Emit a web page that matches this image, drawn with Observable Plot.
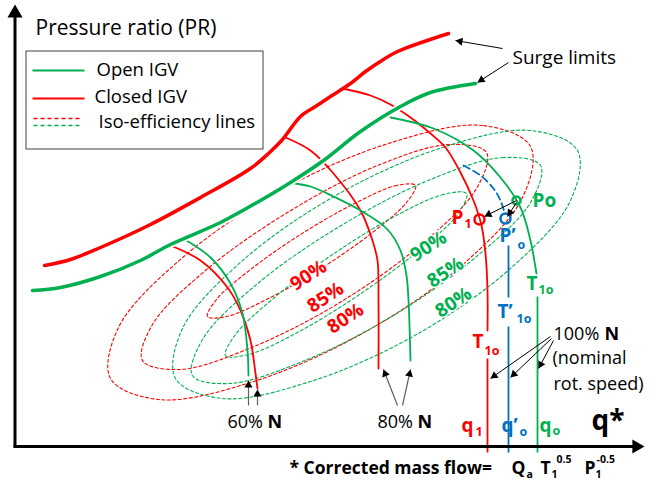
<!DOCTYPE html>
<html><head><meta charset="utf-8">
<script src="https://cdn.jsdelivr.net/npm/d3@7"></script>
<script src="https://cdn.jsdelivr.net/npm/@observablehq/plot@0.6"></script>
<style>body{margin:0;background:#fff}</style>
</head><body><div id="chart"></div>
<script>
// ---- data (x = corrected flow q*, y = pressure-ratio position, schematic units) ----
const surgeClosed = [[44,265],[70,259],[100,247],[150,224],[200,197],[250,168],[268,153],[282,139],[300,116],[315,106],[330,96],[350,83],[365,71],[383,59],[397,51],[448,33]];
const surgeOpen = [[32,290],[60,287],[100,276],[140,260],[170,244],[220,222],[260,200],[290,182],[323,160],[360,131],[400,106],[430,92],[475,83]];

const speedRed60 = [[170,245],[200,260],[227,287],[240,310],[250,340],[255,373],[257,388]];
const speedGreen60 = [[186,240],[210,257],[230,283],[242,313],[247,350],[248,375]];
const speedRed80 = [[285,137],[310,150],[333,173],[360,210],[372,240],[377,260],[378,300],[378,368]];
const speedGreen80 = [[288,182],[310,186],[333,196],[360,210],[387,229],[400,250],[406,275],[408,300],[410,360]];
const speedRed100 = [[342,88],[370,95],[390,104],[410,117],[430,133],[445,147],[460,172],[473,200],[481,225],[485,253],[487,290],[487,330]];
const speedGreen100 = [[390,117],[433,128],[473,150],[500,177],[520,207],[530,240],[535,267],[536,273]];
const speedBlueDashed = [[463,165],[480,175],[493,188],[500,200],[504,212]];

const isoRed80 = [[530,146],[482,125],[391,142],[280,190],[181,258],[118,327],[110,378],[158,399],[250,382],[360,334],[460,266],[522,197]];
const isoRed85 = [[486,152],[449,144],[377,165],[287,212],[205,270],[152,324],[142,360],[179,369],[251,347],[341,301],[423,242],[476,188]];
const isoRed90 = [[415,185],[396,185],[354,203],[300,234],[250,269],[216,299],[207,316],[226,316],[268,298],[322,267],[372,232],[406,202]];
const isoGreen80 = [[577,150],[530,130],[442,147],[337,194],[241,261],[182,328],[175,378],[222,398],[310,381],[416,334],[511,267],[570,200]];
const isoGreen85 = [[540,165],[503,157],[430,179],[339,226],[256,284],[202,339],[192,375],[229,383],[302,361],[393,315],[476,256],[530,202]];
const isoGreen90 = [[466,193],[443,194],[394,216],[332,254],[274,297],[235,334],[225,355],[248,354],[297,332],[359,294],[417,251],[457,214]];

// vertical flow lines down to the axis [x, yTop, yBottom]
const flowRed = [[487,358,452]];
const flowBlue = [[508,245,297],[508,326,452]];
const flowGreen = [[537,296,452]];

// operating points
const pointP1 = [[479,219]];
const pointPo = [[516,200]];
const pointPpo = [[505,218]];

// arrows [x1,y1,x2,y2] (tail -> tip)
const arrowsBlack = [[502,48,455,40],[508,62,477,82],[550,336,490,378],[551,338,510,377],[553,340,538,368],[516,200,484,216],[516,202,507,216]];
const arrowsGrey = [[248,405,248,380],[257,405,257,389],[397,405,383,369],[402,405,410,369]];

// efficiency labels
const effRed = [{t:"90%",x:308,y:275},{t:"85%",x:325,y:297},{t:"80%",x:345,y:318}];
const effGreen = [{t:"90%",x:428,y:246},{t:"85%",x:445,y:272},{t:"80%",x:453,y:302}];

// legend
const legendText = [{t:"Open IGV",x:96,y:70},{t:"Closed IGV",x:94,y:97},{t:"Iso-efficiency lines",x:98,y:122}];

const px = d => d[0], py = d => d[1];
const red = "#FF0000", green = "#00B050", blue = "#0070C0";

function heads(list, r) {
  return list.map(a => {
    const dx = a[2]-a[0], dy = a[3]-a[1], L = Math.hypot(dx, dy);
    return {x: a[2]-dx/L*1.555*r, y: a[3]-dy/L*1.555*r, rot: Math.atan2(dx, -dy)*180/Math.PI};
  });
}
function iso(data, color) {
  return Plot.line(data, {x: px, y: py, stroke: color, strokeWidth: 1.1, strokeDasharray: "3,2.5", curve: "catmull-rom-closed"});
}
function speed(data, color, w = 1.8) {
  return Plot.line(data, {x: px, y: py, stroke: color, strokeWidth: w, curve: "catmull-rom"});
}
function seg(data, o) {
  return Plot.link(data, {x1: d=>d[0], y1: d=>d[1], x2: d=>d[2], y2: d=>d[3], ...o});
}
function vseg(data, color) {
  return Plot.link(data, {x1: d=>d[0], x2: d=>d[0], y1: d=>d[1], y2: d=>d[2], stroke: color, strokeWidth: 1.8});
}
function txt(data, o) {
  return Plot.text(data, {x: "x", y: "y", text: "t", textAnchor: "start", ...o});
}
const B = {fontWeight: "bold"};

const chart = Plot.plot({
  width: 653, height: 487, margin: 0,
  x: {domain: [0, 653], axis: null},
  y: {domain: [487, 0], axis: null},
  style: {fontFamily: "'Open Sans', 'Noto Sans', sans-serif", background: "white"},
  marks: [
    iso(isoRed80, red), iso(isoRed85, red), iso(isoRed90, red),
    iso(isoGreen80, green), iso(isoGreen85, green), iso(isoGreen90, green),
    speed(speedRed60, red), speed(speedGreen60, green),
    speed(speedRed80, red), speed(speedGreen80, green),
    speed(speedRed100, red), speed(speedGreen100, green),
    Plot.line(speedBlueDashed, {x: px, y: py, stroke: blue, strokeWidth: 1.8, strokeDasharray: "7,4", curve: "catmull-rom"}),
    vseg(flowRed, red), vseg(flowBlue, blue), vseg(flowGreen, green),
    Plot.line(surgeClosed, {x: px, y: py, stroke: red, strokeWidth: 3.5, curve: "catmull-rom"}),
    Plot.line(surgeOpen, {x: px, y: py, stroke: "white", strokeWidth: 7, curve: "catmull-rom"}),
    Plot.line(surgeOpen, {x: px, y: py, stroke: green, strokeWidth: 3.5, curve: "catmull-rom"}),
    // efficiency labels with halo
    txt(effRed, {...B, fill: red, fontSize: 19, rotate: -33, textAnchor: "middle", stroke: "white", strokeWidth: 3, paintOrder: "stroke"}),
    txt(effGreen, {...B, fill: green, fontSize: 19, rotate: -33, textAnchor: "middle", stroke: "white", strokeWidth: 3, paintOrder: "stroke"}),
    // points
    Plot.dot(pointP1, {x: px, y: py, r: 5, stroke: red, strokeWidth: 2.5, fill: "none"}),
    Plot.dot(pointPo, {x: px, y: py, r: 4, stroke: green, strokeWidth: 2.5, fill: "none"}),
    Plot.dot(pointPpo, {x: px, y: py, r: 5, stroke: blue, strokeWidth: 2.5, fill: "none"}),
    // arrows
    seg(arrowsBlack, {stroke: "black", strokeWidth: 1}),
    Plot.dot(heads(arrowsBlack, 3), {x: "x", y: "y", rotate: "rot", symbol: "triangle", r: 3, fill: "black"}),
    seg(arrowsGrey, {stroke: "#606060", strokeWidth: 1.2}),
    Plot.dot(heads(arrowsGrey, 3), {x: "x", y: "y", rotate: "rot", symbol: "triangle", r: 3, fill: "black"}),
    // axes
    seg([[14.5,447,14.5,12],[13,446,634,446]], {stroke: "black", strokeWidth: 3}),
    Plot.dot(heads([[14.5,447,14.5,4]], 5.6), {x: "x", y: "y", rotate: "rot", symbol: "triangle", r: 5.6, fill: "black"}),
    Plot.dot(heads([[13,446,644,446]], 5.2), {x: "x", y: "y", rotate: "rot", symbol: "triangle", r: 5.2, fill: "black"}),
    // legend
    Plot.rect([{x1: 26, x2: 263, y1: 51, y2: 149}], {x1: "x1", x2: "x2", y1: "y1", y2: "y2", fill: "white", stroke: "#404040", strokeWidth: 1}),
    seg([[32,70,84,70]], {stroke: green, strokeWidth: 1.8}),
    seg([[32,98,84,98]], {stroke: red, strokeWidth: 1.8}),
    seg([[33,118,82,118]], {stroke: red, strokeWidth: 1.5, strokeDasharray: "4,3"}),
    seg([[33,125,82,125]], {stroke: green, strokeWidth: 1.5, strokeDasharray: "4,3"}),
    txt(legendText, {fill: "black", fontSize: 18.5}),
    // titles
    txt([{t:"Pressure ratio (PR)",x:35,y:28}], {fill: "black", fontSize: 21}),
    txt([{t:"Surge limits",x:512,y:57}], {fill: "black", fontSize: 19}),
    txt([{t:"60%",x:227,y:422},{t:"80%",x:377,y:422},{t:"100%",x:553,y:334},{t:"(nominal",x:552,y:358},{t:"rot. speed)",x:553,y:384}], {fill: "black", fontSize: 18}),
    txt([{t:"N",x:267,y:422},{t:"N",x:417,y:422},{t:"N",x:604,y:334}], {...B, fill: "black", fontSize: 18}),
    txt([{t:"q*",x:591,y:421}], {...B, fill: "black", fontSize: 28}),
    // point / flow labels (main glyphs, then subscripts)
    txt([{t:"P",x:451,y:217},{t:"T",x:472,y:341},{t:"q",x:461,y:425}], {...B, fill: red, fontSize: 19}),
    txt([{t:"1",x:464,y:223},{t:"1o",x:484,y:350},{t:"1",x:475,y:431}], {...B, fill: red, fontSize: 12.5}),
    txt([{t:"Po",x:532,y:200},{t:"T",x:526,y:283},{t:"q",x:539,y:425}], {...B, fill: green, fontSize: 19}),
    txt([{t:"1o",x:538,y:289},{t:"o",x:552,y:430}], {...B, fill: green, fontSize: 12.5}),
    txt([{t:"P\u2019",x:499,y:235},{t:"T\u2019",x:497,y:311},{t:"q\u2019",x:501,y:425}], {...B, fill: blue, fontSize: 19}),
    txt([{t:"o",x:517,y:244},{t:"1o",x:516,y:318},{t:"o",x:519,y:431}], {...B, fill: blue, fontSize: 12.5}),
    // caption
    txt([{t:"* Corrected mass flow=",x:289,y:468},{t:"Q",x:511,y:468},{t:"T",x:540,y:468},{t:"P",x:584,y:468}], {...B, fill: "black", fontSize: 17.5}),
    txt([{t:"a",x:526,y:474},{t:"1",x:551,y:474},{t:"1",x:595,y:474}], {...B, fill: "black", fontSize: 10.5}),
    txt([{t:"0.5",x:556,y:459},{t:"-0.5",x:596,y:459}], {...B, fill: "black", fontSize: 10.5})
  ]
});
document.getElementById("chart").appendChild(chart);
</script>
</body></html>
